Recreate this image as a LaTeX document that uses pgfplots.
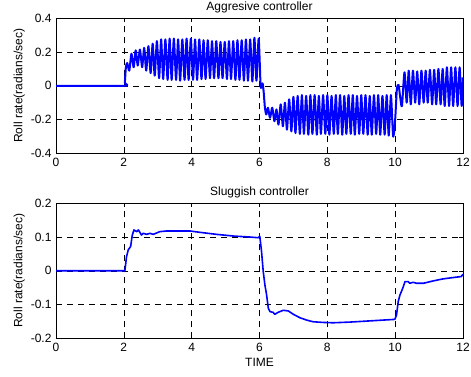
\documentclass[border=0pt]{standalone}
\usepackage{pgfplots}
\pgfplotsset{compat=1.18}
\usepackage{fontspec}
\setmainfont{Liberation Sans}
\definecolor{mblue}{RGB}{0,0,255}
\pgfplotsset{
  mystyle/.style={
    scale only axis, width=407pt, height=135pt,
    xmin=0, xmax=12,
    xtick={0,2,4,6,8,10,12},
    xticklabels={0,2,4,6,8,10,12},
    grid=major,
    major grid style={black, line width=0.5pt, dash pattern=on 6pt off 5pt},
    tick align=inside, major tick length=4pt,
    tick style={black, line width=0.5pt},
    axis line style={black, line width=0.6pt},
    tick label style={font=\fontsize{12}{14}\selectfont},
    label style={font=\fontsize{12}{14}\selectfont},
    title style={font=\fontsize{12}{14}\selectfont, yshift=-4pt},
    ylabel={Roll rate(radians/sec)},
    ylabel style={yshift=-1pt},
    xticklabel style={yshift=-1pt},
    yticklabel style={xshift=-1pt},
  }
}
\begin{document}
\begin{tikzpicture}[x=1pt,y=1pt]
\path[use as bounding box] (0,0) rectangle (471,377);
\begin{axis}[mystyle, at={(56pt,223.7pt)}, anchor=south west,
  ymin=-0.4, ymax=0.4, ytick={-0.4,-0.2,0,0.2,0.4},
  yticklabels={-0.4,-0.2,0,0.2,0.4},
  title={Aggresive controller}]
\addplot[mblue, line width=2pt, line join=round, smooth, tension=0.4] coordinates {
(0,0) (2.0,0) (2.03,0.02) (2.06,0.11)
(2.10,0.135) (2.16,0.09) (2.225,0.19) (2.29,0.11) (2.35,0.21) (2.41,0.12)
(2.475,0.215) (2.54,0.11) (2.60,0.225) (2.66,0.09) (2.725,0.235) (2.79,0.075)
(2.85,0.25) (2.91,0.06) (2.975,0.265) (3.04,0.045) (3.10,0.275) (3.16,0.04)
(3.225,0.275) (3.29,0.035) (3.35,0.28) (3.41,0.035) (3.475,0.28) (3.54,0.035)
(3.60,0.275) (3.66,0.03) (3.725,0.275) (3.79,0.035) (3.85,0.28) (3.91,0.035)
(3.975,0.28) (4.04,0.035) (4.10,0.275) (4.16,0.035) (4.225,0.275) (4.29,0.04)
(4.35,0.27) (4.41,0.04) (4.475,0.27) (4.54,0.045) (4.60,0.265) (4.66,0.045)
(4.725,0.265) (4.79,0.045) (4.85,0.26) (4.91,0.045) (4.975,0.26) (5.04,0.04)
(5.10,0.265) (5.16,0.04) (5.225,0.265) (5.29,0.035) (5.35,0.27) (5.41,0.035)
(5.475,0.27) (5.54,0.03) (5.60,0.275) (5.66,0.03) (5.725,0.275) (5.79,0.025)
(5.85,0.285) (5.91,0.03) (5.975,0.28)
(6.03,0.01) (6.06,-0.01) (6.09,0.015) (6.12,-0.03) (6.16,-0.13)
(6.2,-0.17) (6.25,-0.13) (6.31,-0.19) (6.375,-0.13) (6.44,-0.21) (6.50,-0.14)
(6.56,-0.23) (6.625,-0.11) (6.69,-0.24) (6.75,-0.10) (6.81,-0.26) (6.875,-0.08)
(6.94,-0.27) (7.00,-0.065) (7.06,-0.28)
(7.125,-0.06) (7.19,-0.285) (7.25,-0.055) (7.31,-0.285) (7.375,-0.06) (7.44,-0.29)
(7.50,-0.055) (7.56,-0.285) (7.625,-0.055) (7.69,-0.29) (7.75,-0.06) (7.81,-0.285)
(7.875,-0.055) (7.94,-0.285) (8.00,-0.055) (8.06,-0.29) (8.125,-0.06) (8.19,-0.285)
(8.25,-0.055) (8.31,-0.285) (8.375,-0.055) (8.44,-0.29) (8.50,-0.06) (8.56,-0.285)
(8.625,-0.055) (8.69,-0.285) (8.75,-0.055) (8.81,-0.29) (8.875,-0.06) (8.94,-0.285)
(9.00,-0.055) (9.06,-0.285) (9.125,-0.055) (9.19,-0.29) (9.25,-0.06) (9.31,-0.29)
(9.375,-0.055) (9.44,-0.285) (9.50,-0.055) (9.56,-0.29) (9.625,-0.06) (9.69,-0.29)
(9.75,-0.055) (9.81,-0.295) (9.875,-0.055) (9.94,-0.30)
(10.0,-0.2) (10.05,-0.02) (10.1,0.005) (10.15,-0.07) (10.2,-0.12)
(10.275,0.08) (10.34,-0.10) (10.40,0.09) (10.46,-0.11) (10.525,0.09) (10.59,-0.10)
(10.65,0.085) (10.71,-0.11) (10.775,0.09) (10.84,-0.10) (10.90,0.09) (10.96,-0.10)
(11.025,0.095) (11.09,-0.11) (11.15,0.095) (11.21,-0.11) (11.275,0.10) (11.34,-0.11)
(11.40,0.10) (11.46,-0.12) (11.525,0.11) (11.59,-0.12) (11.65,0.11) (11.71,-0.12)
(11.775,0.11) (11.84,-0.12) (11.90,0.11) (11.96,-0.12) (12.0,0.05)
};
\end{axis}
\begin{axis}[mystyle, at={(56pt,38.7pt)}, anchor=south west,
  ymin=-0.2, ymax=0.2, ytick={-0.2,-0.1,0,0.1,0.2},
  yticklabels={-0.2,-0.1,0,0.1,0.2},
  title={Sluggish controller}, xlabel={TIME}]
\addplot[mblue, line width=1.6pt, line join=round] coordinates {
(0,0) (2.03,0) (2.08,0.042) (2.13,0.062) (2.2,0.072) (2.25,0.106) (2.3,0.121)
(2.38,0.116) (2.43,0.121) (2.52,0.106) (2.57,0.111) (2.67,0.108) (2.77,0.111)
(2.87,0.108) (3.06,0.116) (3.26,0.118) (3.95,0.118) (4.24,0.114) (4.73,0.108)
(5.23,0.103) (5.72,0.100) (5.96,0.098) (6.01,0.102)
(6.06,0.057) (6.11,-0.002) (6.16,-0.042) (6.21,-0.072) (6.26,-0.111) (6.31,-0.121)
(6.4,-0.123) (6.45,-0.129) (6.55,-0.123) (6.7,-0.117) (6.85,-0.119) (7.0,-0.129)
(7.19,-0.139) (7.39,-0.146) (7.58,-0.151) (7.88,-0.153) (8.17,-0.154) (8.66,-0.152)
(9.16,-0.149) (9.65,-0.146) (9.99,-0.144)
(10.04,-0.131) (10.09,-0.091) (10.14,-0.072) (10.19,-0.06) (10.24,-0.047)
(10.29,-0.032) (10.38,-0.032) (10.43,-0.037) (10.53,-0.034) (10.63,-0.037)
(10.83,-0.037) (11.12,-0.03) (11.41,-0.024) (11.71,-0.02) (11.95,-0.017) (12.0,-0.01)
};
\end{axis}
\end{tikzpicture}
\end{document}
